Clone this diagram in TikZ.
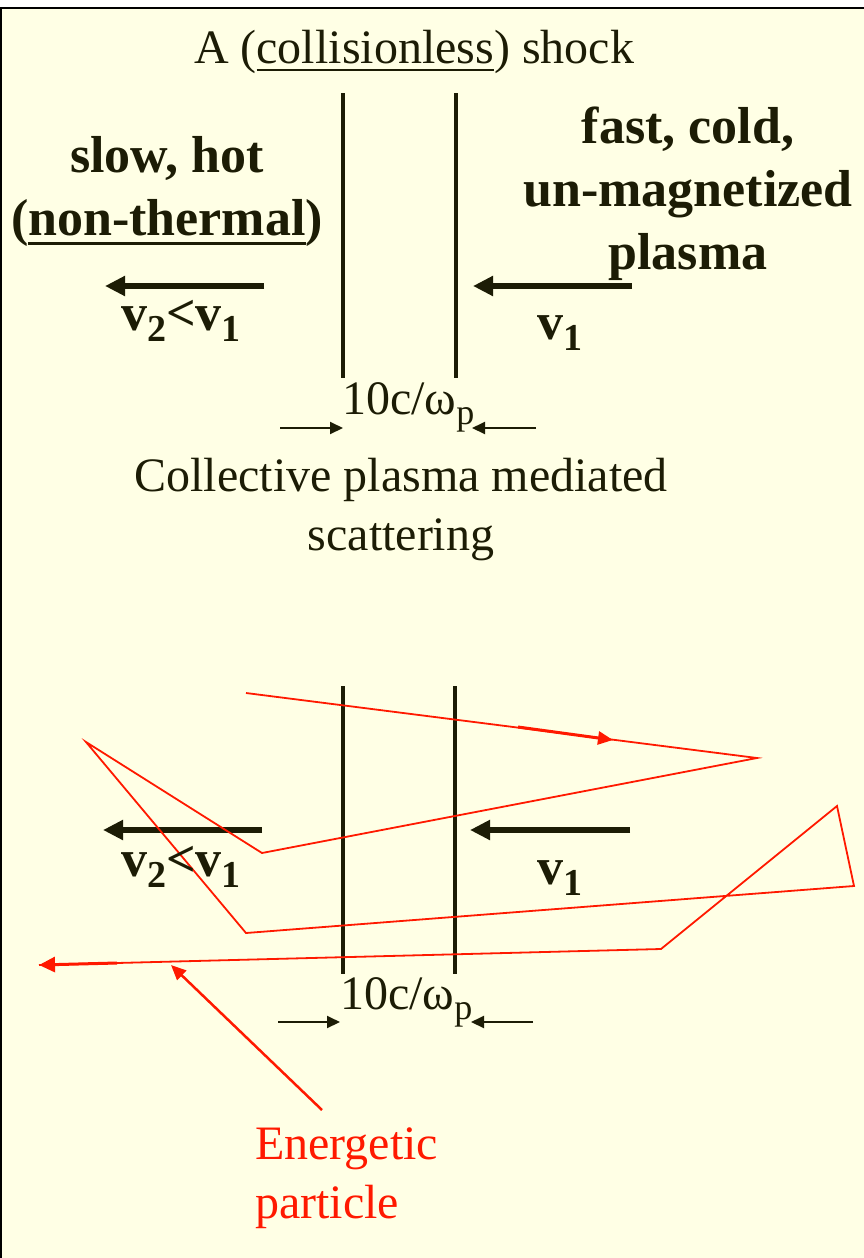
\documentclass[tikz,border=0pt]{standalone}
\usepackage{fontspec}
\setmainfont{Liberation Serif}
\usepackage{tikz}
\usetikzlibrary{arrows.meta}
\definecolor{paper}{RGB}{255,255,229}
\definecolor{ink}{RGB}{28,28,5}
\definecolor{ptc}{RGB}{255,25,0}
\newcommand{\lowidx}[2]{\raisebox{-0.22em}{\fontsize{#1}{#1}\selectfont #2}}
\newcommand{\uln}[3]{\setbox0\hbox{#1}\rlap{\raisebox{-#2}{\rule{\wd0}{#3}}}\box0}

\begin{document}
\begin{tikzpicture}[x=1pt, y=-1pt,
    wall/.style={ink, line width=4.5pt},
    flow/.style={ink, line width=6pt, -{Triangle[length=20pt,width=19pt]}},
    gap/.style={ink, line width=2pt, -{Triangle[length=13pt,width=12pt]}},
    track/.style={ptc, line width=1.8pt},
    hint/.style={ptc, line width=2.5pt, -{Triangle[length=15pt,width=13pt]}},
    plain/.style={ink, inner sep=0pt, anchor=base, align=center, font=\fontsize{48}{59}\selectfont},
    heavy/.style={ink, inner sep=0pt, anchor=base, align=center, font=\fontsize{52}{63}\selectfont\bfseries}]
        \useasboundingbox (0,0) rectangle (864,1258);
        \fill[paper] (0,8) rectangle (864,1258);
        \draw[line width=2pt] (1,1258) |- (864,8);

        % upper picture: the shock front
        \coordinate (A1) at (343,93);
        \coordinate (A2) at (343,378);
        \coordinate (B1) at (456,93);
        \coordinate (B2) at (456,378);
        \coordinate (L1) at (264,286); % downstream flow
        \coordinate (L2) at (105,286);
        \coordinate (R1) at (632,286); % upstream flow
        \coordinate (R2) at (473,286);
        \coordinate (W1) at (280,428); % width of the front
        \coordinate (W2) at (343,428);
        \coordinate (W3) at (536,428);
        \coordinate (W4) at (472,428);

        \draw[wall] (A1) -- (A2);
        \draw[wall] (B1) -- (B2);
        \draw[flow] (L1) -- (L2);
        \draw[flow] (R1) -- (R2);
        \draw[gap] (W1) -- (W2);
        \draw[gap] (W3) -- (W4);

        % base of a block = base of its last line
        \node[plain] (title) at (414,63) {A (\uln{collisionless}{8pt}{2.5pt}) shock};
        \node[heavy] (down) at (167,235) {slow, hot\\(\uln{non-thermal}{10pt}{3.5pt})};
        \node[heavy] (up) at (688,269) {fast, cold,\\un-magnetized\\plasma};
        \node[heavy] (vdown) at (181,330) {v\lowidx{38}{2}<v\lowidx{38}{1}};
        \node[heavy] (vup) at (560,339) {v\lowidx{38}{1}};
        \node[plain, anchor=base west] (width) at (342,414) {10c/ω\lowidx{36}{p}};
        \node[plain] (coll) at (401,550) {Collective plasma mediated\\scattering};

        % lower picture: the same front with a particle crossing it
        \coordinate (C1) at (343,686);
        \coordinate (C2) at (343,974);
        \coordinate (D1) at (455,686);
        \coordinate (D2) at (455,974);
        \coordinate (M1) at (262,830);
        \coordinate (M2) at (103,830);
        \coordinate (N1) at (630,830);
        \coordinate (N2) at (470,830);
        \coordinate (G1) at (278,1022);
        \coordinate (G2) at (340,1022);
        \coordinate (G3) at (533,1022);
        \coordinate (G4) at (471,1022);

        % corners of the particle path
        \coordinate (P0) at (246,693);
        \coordinate (P1) at (757,758);
        \coordinate (P2) at (262,853);
        \coordinate (P3) at (86,742);
        \coordinate (P4) at (246,933);
        \coordinate (P5) at (854,886);
        \coordinate (P6) at (837,806);
        \coordinate (P7) at (661,949);
        \coordinate (P8) at (39,965);
        \coordinate (Q1) at (518,727); % arrow on the first leg
        \coordinate (Q2) at (613,740);
        \coordinate (Q3) at (117,963); % arrow at the end
        \coordinate (H) at (322,1110);
        \coordinate (T) at (171,965);

        \draw[wall] (C1) -- (C2);
        \draw[wall] (D1) -- (D2);
        \draw[flow] (M1) -- (M2);
        \draw[flow] (N1) -- (N2);
        \draw[gap] (G1) -- (G2);
        \draw[gap] (G3) -- (G4);

        \draw[track] (P0) -- (P1) -- (P2) -- (P3) -- (P4) -- (P5) -- (P6) -- (P7) -- (P8);
        \draw[hint, line width=3pt] (Q1) -- (Q2);
        \draw[hint, line width=3pt, -{Triangle[length=16pt,width=15pt]}] (Q3) -- (P8);
        \draw[hint] (H) -- (T);

        \node[heavy] (vdown2) at (181,876) {v\lowidx{38}{2}<v\lowidx{38}{1}};
        \node[heavy] (vup2) at (560,884) {v\lowidx{38}{1}};
        \node[plain, anchor=base west] (width2) at (340,1009) {10c/ω\lowidx{36}{p}};
        \node[plain, ptc, anchor=base west, align=left] (label) at (255,1218) {Energetic\\particle};
    \end{tikzpicture}
\end{document}
